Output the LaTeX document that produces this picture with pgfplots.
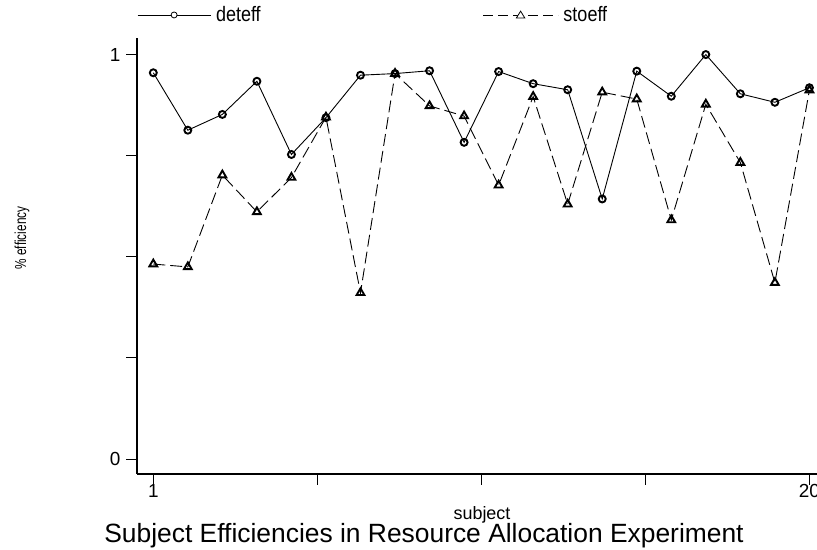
\documentclass[border=0pt]{standalone}
\usepackage{fontspec}
\setmainfont{Liberation Sans}
\usepackage{pgfplots}
\pgfplotsset{compat=1.18}
\begin{document}
\begin{tikzpicture}[x=1bp,y=1bp]
\useasboundingbox (0,0) rectangle (817,550);
\begin{axis}[
  at={(137bp,76bp)}, anchor=south west,
  scale only axis, width=680bp, height=436bp,
  xmin=0.528, xmax=20.22, ymin=-0.037, ymax=1.041,
  axis x line*=bottom, axis y line*=left,
  axis line style={line width=1.1bp, -},
  tick align=outside, major tick length=11bp,
  tick style={line width=1bp, black},
  xtick={1,5.75,10.5,15.25,20}, xticklabels={1,,,,20},
  ytick={0,0.25,0.5,0.75,1}, yticklabels={0,,,,1},
  ticklabel style={font=\fontsize{19}{19}\selectfont},
  yticklabel style={xshift=-2bp},
  xticklabel style={yshift=4bp},
  /pgf/number format/assume math mode=true,
  clip=false,
  legend columns=2,
  legend style={at={(0,1.0528)}, anchor=west, draw=none, fill=none,
    inner sep=0pt, nodes={inner sep=0pt},
    font=\fontsize{21}{21}\selectfont,
    /tikz/every odd column/.append style={column sep=5bp},
    /tikz/every even column/.append style={column sep=222bp}},
  legend cell align=left,
]
\addplot[black, line width=0.9bp, mark=o, mark size=3.5bp,
  mark options={line width=1.9bp, solid},
  legend image code/.code={\draw[line width=0.8bp] (0bp,0bp) -- (73bp,0bp);
    \draw[line width=0.8bp, fill=white] (36.5bp,0bp) circle (3bp);}]
coordinates {
(1,0.955) (2,0.813) (3,0.852) (4,0.934) (5,0.753) (6,0.844) (7,0.949)
(8,0.953) (9,0.960) (10,0.783) (11,0.958) (12,0.928) (13,0.913) (14,0.643)
(15,0.959) (16,0.897) (17,1.000) (18,0.903) (19,0.882) (20,0.918)
};
\addlegendentry{\scalebox{0.86}[1]{deteff}}
\addplot[black, line width=0.9bp, dash pattern=on 12bp off 5bp, mark=triangle, mark size=4.5bp,
  mark options={line width=1.9bp, solid},
  legend image code/.code={\draw[line width=0.8bp, dash pattern=on 10bp off 5bp] (0bp,0bp) -- (75bp,0bp);
    \draw[line width=0.8bp, fill=white, solid] (37.5bp,3.8bp) -- (33.3bp,-3bp) -- (41.7bp,-3bp) -- cycle;}]
coordinates {
(1,0.482) (2,0.475) (3,0.702) (4,0.611) (5,0.696) (6,0.845) (7,0.411)
(8,0.953) (9,0.873) (10,0.848) (11,0.677) (12,0.896) (13,0.630) (14,0.907)
(15,0.890) (16,0.591) (17,0.877) (18,0.733) (19,0.436) (20,0.912)
};
\addlegendentry{\scalebox{0.86}[1]{stoeff}}
\end{axis}
\node[anchor=base, font=\fontsize{18}{18}\selectfont, inner sep=0pt] at (482,30) {subject};
\node[anchor=base, font=\fontsize{26.5}{26.5}\selectfont, inner sep=0pt] at (424,7) {Subject Efficiencies in Resource Allocation Experiment};
\node[rotate=90, inner sep=0pt] at (22,312) {\scalebox{0.74}[1]{\fontsize{16}{16}\selectfont \% efficiency}};
\end{tikzpicture}
\end{document}
